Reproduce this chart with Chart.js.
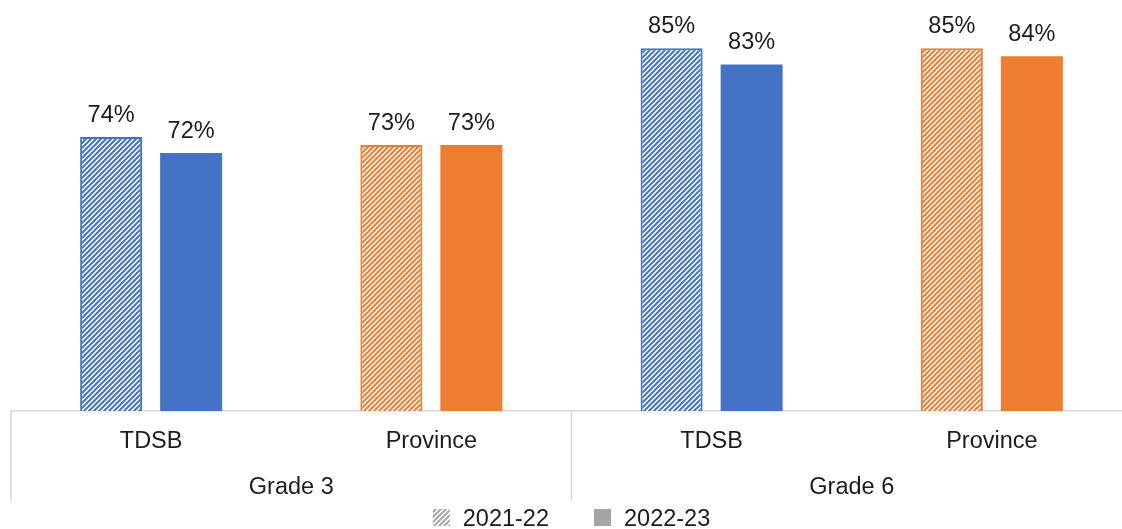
<!DOCTYPE html>
<html>
<head>
<meta charset="utf-8">
<script src="https://cdn.jsdelivr.net/npm/chart.js@4"></script>
<style>
  html, body { margin: 0; padding: 0; background: #fff; overflow: hidden; }
  #wrap { width: 1140px; height: 529px; }
</style>
</head>
<body>
<div id="wrap"><canvas id="chart"></canvas></div>
<script>
const categories = ['TDSB', 'Province', 'TDSB', 'Province'];
const groups = ['Grade 3', 'Grade 6'];
const groupOf = [0, 0, 1, 1];
const seriesNames = ['2021-22', '2022-23'];
const values2122 = [74, 73, 85, 85];
const values2223 = [72, 73, 83, 84];

const blue = '#4472C4';
const orange = '#ED7D31';
const catColors = [blue, orange, blue, orange];
const gray = '#A5A5A5';
const axisColor = '#D9D9D9';
const textColor = '#1c1c1c';
const fontfam = '"Liberation Sans", Arial, sans-serif';
const fontSize = 23.5;

const hatch = (color) => {
    const size = 5;
    const c = document.createElement('canvas');
    c.width = size; c.height = size;
    const g = c.getContext('2d');
    g.fillStyle = '#fff';
    g.fillRect(0, 0, size, size);
    g.strokeStyle = color;
    g.lineWidth = 2;
    g.beginPath();
    g.moveTo(0, size); g.lineTo(size, 0);
    g.moveTo(-1, 1); g.lineTo(1, -1);
    g.moveTo(size - 1, size + 1); g.lineTo(size + 1, size - 1);
    g.stroke();
    return g.createPattern(c, 'repeat');
};

const dataLabels = {
    id: 'dataLabels',
    afterDatasetsDraw(chart) {
        const ctx = chart.ctx;
        ctx.save();
        ctx.font = `${fontSize}px ${fontfam}`;
        ctx.fillStyle = textColor;
        ctx.textAlign = 'center';
        ctx.textBaseline = 'alphabetic';
        chart.data.datasets.forEach((ds, di) => {
            chart.getDatasetMeta(di).data.forEach((bar, i) => {
                ctx.fillText(`${ds.data[i]}%`, bar.x, bar.y - 15);
            });
        });
        ctx.restore();
    }
};

const groupAxis = {
    id: 'groupAxis',
    afterDraw(chart) {
        const ctx = chart.ctx;
        const xs = chart.scales.x;
        const half = (xs.getPixelForValue(1) - xs.getPixelForValue(0)) / 2;
        const top = chart.chartArea.bottom;
        ctx.save();
        ctx.strokeStyle = axisColor;
        ctx.lineWidth = 1.5;
        // separators at outer edges and between groups
        const edges = [];
        groupOf.forEach((g, i) => {
            if (i === 0 || groupOf[i - 1] !== g) edges.push(xs.getPixelForValue(i) - half);
        });
        edges.push(xs.getPixelForValue(categories.length - 1) + half);
        ctx.beginPath();
        edges.forEach(x => { ctx.moveTo(x, top); ctx.lineTo(x, top + 90); });
        ctx.stroke();

        ctx.font = `${fontSize}px ${fontfam}`;
        ctx.fillStyle = textColor;
        ctx.textAlign = 'center';
        ctx.textBaseline = 'alphabetic';
        groups.forEach((name, g) => {
            const idx = groupOf.map((v, i) => v === g ? i : -1).filter(i => i >= 0);
            const cx = idx.reduce((s, i) => s + xs.getPixelForValue(i), 0) / idx.length;
            ctx.fillText(name, cx, top + 83);
        });

        // legend
        const box = 17, gapText = 13, gapItem = 45;
        const widths = seriesNames.map(n => box + gapText + ctx.measureText(n).width);
        const total = widths.reduce((a, b) => a + b, 0) + gapItem * (widths.length - 1);
        let x = (chart.chartArea.left + chart.chartArea.right) / 2 - total / 2;
        const ly = 509;
        ctx.textAlign = 'left';
        seriesNames.forEach((n, i) => {
            ctx.fillStyle = i === 0 ? hatch(gray) : gray;
            ctx.fillRect(x, ly, box, box);
            ctx.fillStyle = textColor;
            ctx.fillText(n, x + box + gapText, ly + 17);
            x += widths[i] + gapItem;
        });
        ctx.restore();
    }
};

new Chart(document.getElementById('chart'), {
    type: 'bar',
    data: {
        labels: categories,
        datasets: [
            {
                label: seriesNames[0],
                data: values2122,
                backgroundColor: catColors.map(c => hatch(c)),
                borderColor: catColors,
                borderWidth: 2,
                borderSkipped: false
            },
            {
                label: seriesNames[1],
                data: values2223,
                backgroundColor: catColors,
                borderWidth: 0
            }
        ]
    },
    options: {
        responsive: true,
        maintainAspectRatio: false,
        animation: false,
        layout: { padding: { left: 11, right: 8, top: 8, bottom: 0 } },
        datasets: {
            bar: { categoryPercentage: 0.571, barPercentage: 0.775 }
        },
        scales: {
            x: {
                grid: { display: false, drawTicks: false },
                border: { display: true, color: axisColor, width: 1.5 },
                ticks: {
                    font: { family: fontfam, size: fontSize },
                    color: textColor,
                    padding: 16,
                    maxRotation: 0
                },
                afterFit: scale => { scale.height = 118; }
            },
            y: {
                display: false,
                min: 40,
                max: 90
            }
        },
        plugins: {
            legend: { display: false },
            tooltip: { enabled: false }
        }
    },
    plugins: [dataLabels, groupAxis]
});
</script>
</body>
</html>
